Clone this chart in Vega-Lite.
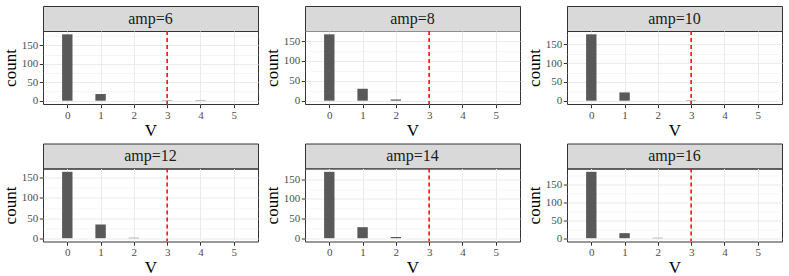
{
  "$schema": "https://vega.github.io/schema/vega-lite/v6.json",
  "padding": {"left": 0, "top": 5, "right": 0, "bottom": 0},
  "background": "white",
  "config": {
    "font": "Liberation Serif",
    "view": {"stroke": "#333333", "strokeWidth": 1},
    "axis": {
      "labelFont": "Liberation Serif",
      "labelFontSize": 11,
      "labelColor": "#4d4d4d",
      "titleFont": "Liberation Serif",
      "titleFontSize": 17,
      "titleFontWeight": "normal",
      "titleColor": "#000000",
      "tickColor": "#333333",
      "tickSize": 3.7,
      "tickWidth": 1,
      "domain": false,
      "gridColor": "#ebebeb",
      "gridWidth": 1,
      "labelPadding": 1.5,
      "titlePadding": 2
    }
  },
  "datasets": {
    "hist": [
      {"amp": 6, "V": 0, "count": 180},
      {"amp": 6, "V": 1, "count": 18},
      {"amp": 6, "V": 3, "count": 1},
      {"amp": 6, "V": 4, "count": 1},
      {"amp": 8, "V": 0, "count": 167},
      {"amp": 8, "V": 1, "count": 30},
      {"amp": 8, "V": 2, "count": 3},
      {"amp": 10, "V": 0, "count": 177},
      {"amp": 10, "V": 1, "count": 22},
      {"amp": 10, "V": 3, "count": 1},
      {"amp": 12, "V": 0, "count": 165},
      {"amp": 12, "V": 1, "count": 34},
      {"amp": 12, "V": 2, "count": 1},
      {"amp": 14, "V": 0, "count": 169},
      {"amp": 14, "V": 1, "count": 28},
      {"amp": 14, "V": 2, "count": 3},
      {"amp": 16, "V": 0, "count": 185},
      {"amp": 16, "V": 1, "count": 14},
      {"amp": 16, "V": 2, "count": 1}
    ],
    "threshold": [{"V": 3}]
  },
  "columns": 3,
  "spacing": {"row": 3.5, "column": 3},
  "concat": [
    {
      "spacing": 0, "bounds": "flush",
      "vconcat": [
        {"width": 215, "height": 25, "data": {"values": [{"label": "amp=6"}]},
         "mark": {"type": "text", "font": "Liberation Serif", "fontSize": 16, "color": "#1a1a1a"},
         "encoding": {"text": {"field": "label"}},
         "view": {"fill": "#d9d9d9", "stroke": "#333333"}},
        {"width": 215, "height": 73,
         "layer": [
           {"data": {"name": "hist"}, "transform": [{"filter": "datum.amp == 6"}],
            "mark": {"type": "bar", "size": 10.4, "color": "#595959"},
            "encoding": {
              "x": {"field": "V", "type": "quantitative", "title": "V", "scale": {"domain": [-0.58, 5.58], "nice": false, "zero": false}, "axis": {"values": [0, 1, 2, 3, 4, 5]}},
              "y": {"field": "count", "type": "quantitative", "title": "count", "scale": {"domain": [-9, 189], "nice": false, "zero": false},
                    "axis": {"values": [0, 25, 50, 75, 100, 125, 150, 175], "labelExpr": "datum.value % 50 === 0 ? datum.label : ''",
                             "tickColor": {"condition": {"test": "datum.value % 50 !== 0", "value": "transparent"}, "value": "#333333"},
                             "gridWidth": {"condition": {"test": "datum.value % 50 !== 0", "value": 0.5}, "value": 1}}}
            }},
           {"data": {"name": "threshold"}, "mark": {"type": "rule", "color": "#ff0000", "strokeDash": [4, 3], "strokeWidth": 1.5},
            "encoding": {"x": {"field": "V", "type": "quantitative"}}}
         ]}
      ]
    },
    {
      "spacing": 0, "bounds": "flush",
      "vconcat": [
        {"width": 215, "height": 25, "data": {"values": [{"label": "amp=8"}]},
         "mark": {"type": "text", "font": "Liberation Serif", "fontSize": 16, "color": "#1a1a1a"},
         "encoding": {"text": {"field": "label"}},
         "view": {"fill": "#d9d9d9", "stroke": "#333333"}},
        {"width": 215, "height": 73,
         "layer": [
           {"data": {"name": "hist"}, "transform": [{"filter": "datum.amp == 8"}],
            "mark": {"type": "bar", "size": 10.4, "color": "#595959"},
            "encoding": {
              "x": {"field": "V", "type": "quantitative", "title": "V", "scale": {"domain": [-0.58, 5.58], "nice": false, "zero": false}, "axis": {"values": [0, 1, 2, 3, 4, 5]}},
              "y": {"field": "count", "type": "quantitative", "title": "count", "scale": {"domain": [-8.35, 175.35], "nice": false, "zero": false},
                    "axis": {"values": [0, 25, 50, 75, 100, 125, 150, 175], "labelExpr": "datum.value % 50 === 0 ? datum.label : ''",
                             "tickColor": {"condition": {"test": "datum.value % 50 !== 0", "value": "transparent"}, "value": "#333333"},
                             "gridWidth": {"condition": {"test": "datum.value % 50 !== 0", "value": 0.5}, "value": 1}}}
            }},
           {"data": {"name": "threshold"}, "mark": {"type": "rule", "color": "#ff0000", "strokeDash": [4, 3], "strokeWidth": 1.5},
            "encoding": {"x": {"field": "V", "type": "quantitative"}}}
         ]}
      ]
    },
    {
      "spacing": 0, "bounds": "flush",
      "vconcat": [
        {"width": 215, "height": 25, "data": {"values": [{"label": "amp=10"}]},
         "mark": {"type": "text", "font": "Liberation Serif", "fontSize": 16, "color": "#1a1a1a"},
         "encoding": {"text": {"field": "label"}},
         "view": {"fill": "#d9d9d9", "stroke": "#333333"}},
        {"width": 215, "height": 73,
         "layer": [
           {"data": {"name": "hist"}, "transform": [{"filter": "datum.amp == 10"}],
            "mark": {"type": "bar", "size": 10.4, "color": "#595959"},
            "encoding": {
              "x": {"field": "V", "type": "quantitative", "title": "V", "scale": {"domain": [-0.58, 5.58], "nice": false, "zero": false}, "axis": {"values": [0, 1, 2, 3, 4, 5]}},
              "y": {"field": "count", "type": "quantitative", "title": "count", "scale": {"domain": [-8.85, 185.85], "nice": false, "zero": false},
                    "axis": {"values": [0, 25, 50, 75, 100, 125, 150, 175], "labelExpr": "datum.value % 50 === 0 ? datum.label : ''",
                             "tickColor": {"condition": {"test": "datum.value % 50 !== 0", "value": "transparent"}, "value": "#333333"},
                             "gridWidth": {"condition": {"test": "datum.value % 50 !== 0", "value": 0.5}, "value": 1}}}
            }},
           {"data": {"name": "threshold"}, "mark": {"type": "rule", "color": "#ff0000", "strokeDash": [4, 3], "strokeWidth": 1.5},
            "encoding": {"x": {"field": "V", "type": "quantitative"}}}
         ]}
      ]
    },
    {
      "spacing": 0, "bounds": "flush",
      "vconcat": [
        {"width": 215, "height": 25, "data": {"values": [{"label": "amp=12"}]},
         "mark": {"type": "text", "font": "Liberation Serif", "fontSize": 16, "color": "#1a1a1a"},
         "encoding": {"text": {"field": "label"}},
         "view": {"fill": "#d9d9d9", "stroke": "#333333"}},
        {"width": 215, "height": 73,
         "layer": [
           {"data": {"name": "hist"}, "transform": [{"filter": "datum.amp == 12"}],
            "mark": {"type": "bar", "size": 10.4, "color": "#595959"},
            "encoding": {
              "x": {"field": "V", "type": "quantitative", "title": "V", "scale": {"domain": [-0.58, 5.58], "nice": false, "zero": false}, "axis": {"values": [0, 1, 2, 3, 4, 5]}},
              "y": {"field": "count", "type": "quantitative", "title": "count", "scale": {"domain": [-8.25, 173.25], "nice": false, "zero": false},
                    "axis": {"values": [0, 25, 50, 75, 100, 125, 150], "labelExpr": "datum.value % 50 === 0 ? datum.label : ''",
                             "tickColor": {"condition": {"test": "datum.value % 50 !== 0", "value": "transparent"}, "value": "#333333"},
                             "gridWidth": {"condition": {"test": "datum.value % 50 !== 0", "value": 0.5}, "value": 1}}}
            }},
           {"data": {"name": "threshold"}, "mark": {"type": "rule", "color": "#ff0000", "strokeDash": [4, 3], "strokeWidth": 1.5},
            "encoding": {"x": {"field": "V", "type": "quantitative"}}}
         ]}
      ]
    },
    {
      "spacing": 0, "bounds": "flush",
      "vconcat": [
        {"width": 215, "height": 25, "data": {"values": [{"label": "amp=14"}]},
         "mark": {"type": "text", "font": "Liberation Serif", "fontSize": 16, "color": "#1a1a1a"},
         "encoding": {"text": {"field": "label"}},
         "view": {"fill": "#d9d9d9", "stroke": "#333333"}},
        {"width": 215, "height": 73,
         "layer": [
           {"data": {"name": "hist"}, "transform": [{"filter": "datum.amp == 14"}],
            "mark": {"type": "bar", "size": 10.4, "color": "#595959"},
            "encoding": {
              "x": {"field": "V", "type": "quantitative", "title": "V", "scale": {"domain": [-0.58, 5.58], "nice": false, "zero": false}, "axis": {"values": [0, 1, 2, 3, 4, 5]}},
              "y": {"field": "count", "type": "quantitative", "title": "count", "scale": {"domain": [-8.45, 177.45], "nice": false, "zero": false},
                    "axis": {"values": [0, 25, 50, 75, 100, 125, 150, 175], "labelExpr": "datum.value % 50 === 0 ? datum.label : ''",
                             "tickColor": {"condition": {"test": "datum.value % 50 !== 0", "value": "transparent"}, "value": "#333333"},
                             "gridWidth": {"condition": {"test": "datum.value % 50 !== 0", "value": 0.5}, "value": 1}}}
            }},
           {"data": {"name": "threshold"}, "mark": {"type": "rule", "color": "#ff0000", "strokeDash": [4, 3], "strokeWidth": 1.5},
            "encoding": {"x": {"field": "V", "type": "quantitative"}}}
         ]}
      ]
    },
    {
      "spacing": 0, "bounds": "flush",
      "vconcat": [
        {"width": 215, "height": 25, "data": {"values": [{"label": "amp=16"}]},
         "mark": {"type": "text", "font": "Liberation Serif", "fontSize": 16, "color": "#1a1a1a"},
         "encoding": {"text": {"field": "label"}},
         "view": {"fill": "#d9d9d9", "stroke": "#333333"}},
        {"width": 215, "height": 73,
         "layer": [
           {"data": {"name": "hist"}, "transform": [{"filter": "datum.amp == 16"}],
            "mark": {"type": "bar", "size": 10.4, "color": "#595959"},
            "encoding": {
              "x": {"field": "V", "type": "quantitative", "title": "V", "scale": {"domain": [-0.58, 5.58], "nice": false, "zero": false}, "axis": {"values": [0, 1, 2, 3, 4, 5]}},
              "y": {"field": "count", "type": "quantitative", "title": "count", "scale": {"domain": [-9.25, 194.25], "nice": false, "zero": false},
                    "axis": {"values": [0, 25, 50, 75, 100, 125, 150, 175], "labelExpr": "datum.value % 50 === 0 ? datum.label : ''",
                             "tickColor": {"condition": {"test": "datum.value % 50 !== 0", "value": "transparent"}, "value": "#333333"},
                             "gridWidth": {"condition": {"test": "datum.value % 50 !== 0", "value": 0.5}, "value": 1}}}
            }},
           {"data": {"name": "threshold"}, "mark": {"type": "rule", "color": "#ff0000", "strokeDash": [4, 3], "strokeWidth": 1.5},
            "encoding": {"x": {"field": "V", "type": "quantitative"}}}
         ]}
      ]
    }
  ]
}
